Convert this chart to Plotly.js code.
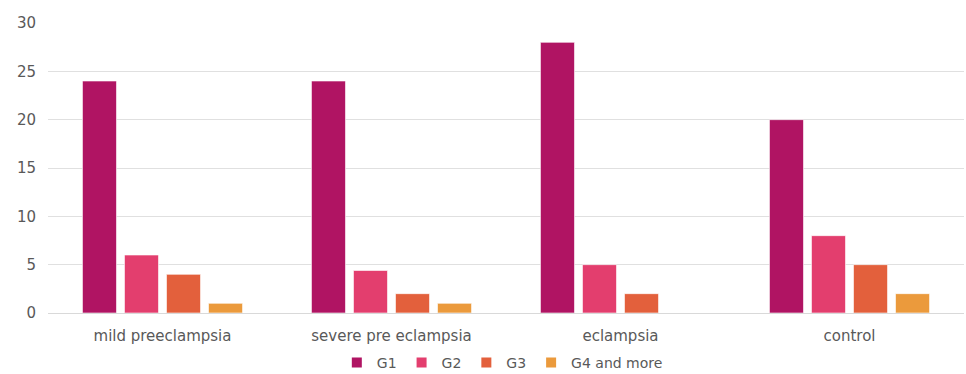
<!DOCTYPE html>
<html>
<head>
<meta charset="utf-8">
<script src="https://cdn.plot.ly/plotly-3.0.1.min.js"></script>
<style>html,body{margin:0;padding:0;background:#fff;}#chart{width:966px;height:374px;}</style>
</head>
<body>
<div id="chart"></div>
<script>
const categories = ["mild preeclampsia", "severe pre eclampsia", "eclampsia", "control"];
const seriesNames = ["G1", "G2", "G3", "G4 and more"];
const g1 = [24, 24, 28, 20];
const g2 = [6, 4.4, 5, 8];
const g3 = [4, 2, 2, 5];
const g4 = [1, 1, 0, 2];
const colors = ["#b01463", "#e33e6e", "#e3603c", "#eb9a3c"];
const yTicks = [0, 5, 10, 15, 20, 25, 30];

const values = [g1, g2, g3, g4];
const traces = values.map((v, i) => ({
  type: "bar",
  name: seriesNames[i],
  x: categories,
  y: v,
  showlegend: false,
  marker: {color: colors[i], line: {color: "rgba(255,255,255,0.6)", width: 1}},
  hoverinfo: "none"
}));
// legend entries with small square keys
seriesNames.forEach((n, i) => traces.push({
  type: "scatter", mode: "markers", name: n,
  x: [categories[0]], y: [null],
  marker: {symbol: "square", size: 10, color: colors[i]},
  showlegend: true, hoverinfo: "none"
}));

const font = {family: "'DejaVu Sans', sans-serif", size: 15, color: "#595959"};
const layout = {
  width: 966, height: 374,
  margin: {l: 48, r: 2, t: 23, b: 61, autoexpand: false},
  paper_bgcolor: "#fff", plot_bgcolor: "#fff",
  font: font,
  barmode: "group",
  bargap: 0.266,
  bargroupgap: 0.19,
  showlegend: true,
  legend: {orientation: "h", x: 0.52, xanchor: "center", xref: "container",
           y: -0.172, yanchor: "middle", yref: "paper", bgcolor: "rgba(0,0,0,0)",
           font: {family: font.family, size: 14, color: "#595959"}, itemwidth: 30,
           traceorder: "normal", tracegroupgap: 0},
  xaxis: {showline: true, linecolor: "#d9d9d9", linewidth: 1, ticks: "", showgrid: false,
          tickfont: font, zeroline: false, ticklabelstandoff: 9, automargin: false},
  yaxis: {range: [0, 30], tickvals: yTicks, ticktext: yTicks.map(String), showgrid: true,
          gridcolor: "#e0e0e0", gridwidth: 1, zeroline: false, showline: false, ticks: "",
          tickfont: font, ticklabelstandoff: 11, automargin: false}
};
Plotly.newPlot("chart", traces, layout, {displayModeBar: false, staticPlot: true});
</script>
</body>
</html>
